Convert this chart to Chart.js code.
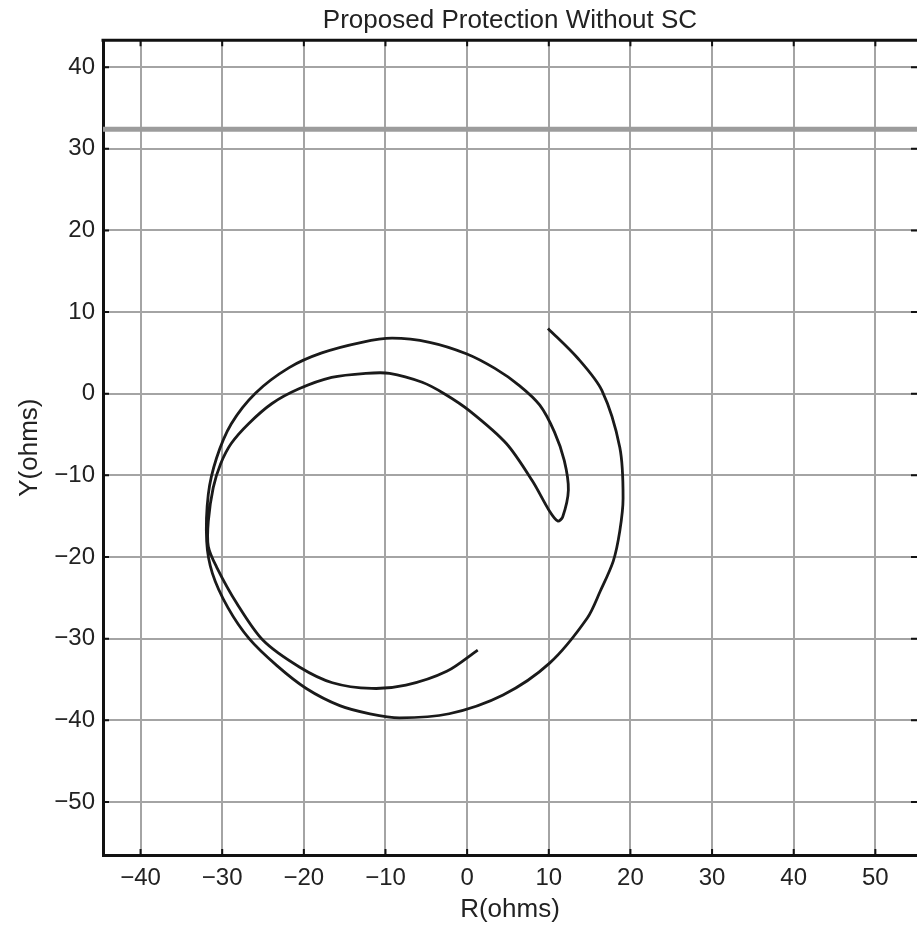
<!DOCTYPE html>
<html>
<head>
<meta charset="utf-8">
<script src="https://cdn.jsdelivr.net/npm/chart.js@4.4.1/dist/chart.umd.min.js"></script>
<style>
  html, body { margin: 0; padding: 0; background: #fff; overflow: hidden; }
  #wrap { width: 917px; height: 930px; }
</style>
</head>
<body>
<div id="wrap"><canvas id="locusChart"></canvas></div>
<script>
// impedance locus
const locusR = [
  9.9, 13.5, 16.5, 18.7, 19.1, 18.7, 17.9, 16.3, 14.7, 10.1,
  4.4, -2.2, -8.3, -11.9, -15.6, -19.7, -23.3, -26.7, -29.3, -31.2,
  -31.9, -31.7, -30.7, -28.9, -25.9, -21.8, -17.8, -12.9, -9.2, -4.6,
  -0.1, 3.4, 6.4, 8.9, 10.7, 11.9, 12.4, 11.7, 11.1, 10.1, 8.0,
  4.8, 0.3, -2.8, -5.5, -9.5, -12.4, -16.6, -20.6, -23.9, -26.8,
  -28.9, -30.2, -31.1, -31.7, -31.7, -30.7, -28.2, -25.0, -20.5, -16.5,
  -11.7, -7.5, -2.5, 1.3
];
const locusX = [
  8.0, 4.4, 0.4, -6.6, -12.8, -16.8, -20.5, -24.2, -27.5, -33.0,
  -36.9, -39.2, -39.7, -39.2, -38.2, -36.1, -33.3, -30.0, -26.2, -22.0,
  -18.1, -12.3, -7.9, -3.7, 0.1, 3.2, 5.0, 6.3, 6.8, 6.3,
  4.9, 3.1, 1.0, -1.4, -4.7, -8.2, -11.8, -15.1, -15.6, -14.4, -10.7,
  -6.1, -2.1, 0.0, 1.4, 2.5, 2.5, 2.0, 0.6, -1.2, -3.7,
  -6.1, -8.6, -11.5, -15.6, -18.7, -21.2, -25.7, -30.2, -33.5, -35.4,
  -36.1, -35.7, -34.0, -31.4
];
const thresholdY = 32.4;

const xTicks = [-40, -30, -20, -10, 0, 10, 20, 30, 40, 50];
const yTicks = [-50, -40, -30, -20, -10, 0, 10, 20, 30, 40];
const xMin = -44.6, xMax = 55.1;
const yMin = -56.5, yMax = 43.3;

const locusPts = locusR.map((r, i) => ({ x: r, y: locusX[i] }));

const fontFam = "'Liberation Sans', Arial, Helvetica, sans-serif";
const minus = v => (v < 0 ? '\u2212' + Math.abs(v) : '' + v);

// matlab-style frame: thick top edge + short inward ticks on all sides
const framePlugin = {
  id: 'frame',
  afterDatasetsDraw(chart) {
    const { ctx, chartArea: a, scales } = chart;
    ctx.save();
    ctx.strokeStyle = '#111';
    ctx.lineWidth = 2;
    xTicks.forEach(v => {
      const px = scales.x.getPixelForValue(v);
      ctx.beginPath();
      ctx.moveTo(px, a.bottom); ctx.lineTo(px, a.bottom - 6);
      ctx.moveTo(px, a.top); ctx.lineTo(px, a.top + 6);
      ctx.stroke();
    });
    yTicks.forEach(v => {
      const py = scales.y.getPixelForValue(v);
      ctx.beginPath();
      ctx.moveTo(a.left, py); ctx.lineTo(a.left + 6, py);
      ctx.moveTo(a.right, py); ctx.lineTo(a.right - 6, py);
      ctx.stroke();
    });
    ctx.lineWidth = 3;
    ctx.beginPath();
    ctx.moveTo(a.left - 1.5, a.top);
    ctx.lineTo(a.right, a.top);
    ctx.stroke();
    ctx.restore();
  }
};

new Chart(document.getElementById('locusChart'), {
  type: 'scatter',
  data: {
    datasets: [
      {
        label: 'limit',
        data: [{ x: xMin, y: thresholdY }, { x: xMax, y: thresholdY }],
        showLine: true,
        borderColor: '#9c9c9c',
        borderWidth: 5,
        pointRadius: 0
      },
      {
        label: 'locus',
        data: locusPts,
        showLine: true,
        borderColor: '#1a1a1a',
        borderWidth: 2.8,
        pointRadius: 0,
        tension: 0.3
      }
    ]
  },
  options: {
    responsive: true,
    maintainAspectRatio: false,
    animation: false,
    layout: { padding: 0 },
    plugins: {
      legend: { display: false },
      tooltip: { enabled: false },
      title: {
        display: true,
        fullSize: false,
        text: 'Proposed Protection Without SC',
        color: '#222',
        font: { family: fontFam, size: 26, weight: 'normal' },
        padding: { top: 5, bottom: 4 }
      }
    },
    scales: {
      x: {
        type: 'linear',
        min: xMin,
        max: xMax,
        afterBuildTicks: s => { s.ticks = xTicks.map(v => ({ value: v })); },
        afterFit: s => { s.height = 75; },
        grid: { color: '#a4a4a4', lineWidth: 2, drawTicks: false },
        border: { color: '#111', width: 3 },
        ticks: {
          padding: 9,
          color: '#222',
          font: { family: fontFam, size: 24 },
          maxRotation: 0,
          callback: v => minus(v)
        },
        title: {
          display: true,
          text: 'R(ohms)',
          color: '#222',
          font: { family: fontFam, size: 26 },
          padding: { top: 0, bottom: 5 }
        }
      },
      y: {
        type: 'linear',
        min: yMin,
        max: yMax,
        afterBuildTicks: s => { s.ticks = yTicks.map(v => ({ value: v })); },
        afterFit: s => { s.width = 103; },
        grid: { color: '#a4a4a4', lineWidth: 2, drawTicks: false },
        border: { color: '#111', width: 3 },
        ticks: {
          padding: 8,
          color: '#222',
          font: { family: fontFam, size: 24 },
          callback: v => minus(v)
        },
        title: {
          display: true,
          text: 'Y(ohms)',
          color: '#222',
          font: { family: fontFam, size: 26 },
          padding: { top: 14, bottom: 0 }
        }
      }
    }
  },
  plugins: [framePlugin]
});
</script>
</body>
</html>
